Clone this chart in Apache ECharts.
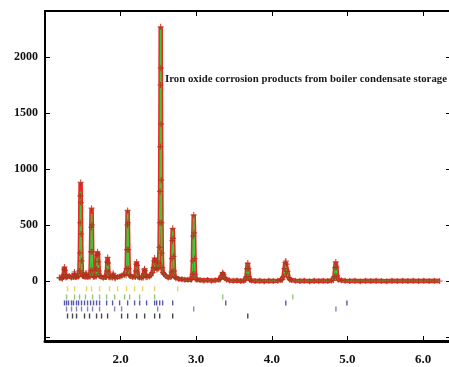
<!DOCTYPE html>
<html>
<head>
<meta charset="utf-8">
<script src="https://cdn.jsdelivr.net/npm/echarts@6/dist/echarts.min.js"></script>
<style>
  html, body { margin: 0; padding: 0; background: #fff; }
  #chart { width: 449px; height: 367px; }
</style>
</head>
<body>
<div id="chart"></div>
<script>
// background points: [d, observed, calculated]
const baseline = [
  [1.19, 30, 25], [1.20, 28, 25], [1.23, 20, 22], [1.29, 35, 28], [1.32, 45, 35],
  [1.35, 30, 28], [1.42, 35, 30], [1.51, 45, 35], [1.57, 38, 30], [1.65, 35, 30],
  [1.74, 40, 30], [1.77, 28, 28], [1.80, 35, 28], [1.86, 30, 28], [1.93, 25, 28],
  [1.96, 35, 32], [1.99, 40, 38], [2.02, 50, 45], [2.05, 55, 48], [2.13, 45, 40],
  [2.16, 35, 30], [2.25, 30, 28], [2.28, 28, 26], [2.35, 35, 30], [2.38, 40, 38],
  [2.57, 60, 55], [2.60, 45, 42], [2.63, 30, 30], [2.73, 25, 22], [2.77, 18, 18],
  [2.81, 15, 15], [2.85, 12, 12], [2.89, 10, 10], [2.93, 12, 12], [3.01, 12, 10],
  [3.05, 8, 8], [3.10, 5, 6], [3.15, 8, 5], [3.20, 3, 4], [3.25, 6, 4],
  [3.30, 10, 8], [3.40, 12, 10], [3.44, 5, 4], [3.49, 2, 3], [3.54, 4, 2],
  [3.59, 0, 2], [3.63, 3, 3], [3.73, 4, 3], [3.78, 0, 2], [3.84, 3, 1],
  [3.90, -2, 1], [3.96, 2, 1], [4.02, 0, 1], [4.08, 3, 3], [4.12, 8, 6],
  [4.26, 8, 6], [4.31, 2, 2], [4.37, 0, 1], [4.43, 2, 0], [4.50, -2, 0],
  [4.56, 1, 0], [4.62, -1, 0], [4.68, 2, 0], [4.74, 0, 1], [4.79, 4, 4],
  [4.92, 6, 5], [4.97, 2, 2], [5.03, 0, 1], [5.10, 2, 0], [5.17, -2, 0],
  [5.24, 1, 0], [5.31, -1, 0], [5.38, 2, 0], [5.45, 0, 0], [5.52, -2, 0],
  [5.59, 1, 0], [5.66, 0, 0], [5.73, 2, 0], [5.80, -1, 0], [5.87, 1, 0],
  [5.94, 0, 0], [6.01, 2, 0], [6.08, -1, 0], [6.15, 1, 0], [6.22, 0, 0]
];

// reflections: each a list of [d, observed, calculated]
const peaks = [
  [[1.240, 35, 30], [1.248, 60, 50], [1.254, 105, 85], [1.258, 125, 100], [1.263, 95, 80], [1.269, 55, 45], [1.276, 32, 30]],
  [[1.380, 35, 30], [1.386, 65, 55], [1.390, 80, 65], [1.395, 60, 50], [1.402, 35, 30]],
  [[1.445, 40, 35], [1.455, 90, 80], [1.461, 250, 230], [1.465, 520, 480], [1.468, 760, 690], [1.471, 880, 800],
   [1.474, 700, 650], [1.478, 420, 400], [1.483, 180, 170], [1.490, 70, 60], [1.497, 45, 40]],
  [[1.532, 35, 32], [1.538, 60, 55], [1.543, 72, 65], [1.549, 55, 50], [1.556, 35, 32]],
  [[1.595, 38, 32], [1.603, 90, 80], [1.608, 260, 240], [1.612, 480, 450], [1.616, 650, 600], [1.620, 500, 470],
   [1.625, 260, 240], [1.631, 95, 85], [1.639, 40, 35]],
  [[1.676, 40, 35], [1.684, 110, 95], [1.690, 230, 190], [1.695, 260, 215], [1.700, 240, 200], [1.706, 170, 150],
   [1.712, 90, 85], [1.720, 45, 40]],
  [[1.812, 35, 30], [1.819, 90, 75], [1.824, 170, 140], [1.828, 210, 170], [1.833, 160, 130], [1.839, 80, 65], [1.846, 35, 30]],
  [[1.892, 32, 30], [1.898, 55, 50], [1.903, 68, 60], [1.909, 50, 45], [1.916, 30, 28]],
  [[2.072, 52, 48], [2.080, 110, 100], [2.085, 280, 260], [2.089, 500, 480], [2.093, 630, 610], [2.097, 520, 500],
   [2.102, 280, 270], [2.108, 110, 100], [2.116, 50, 45]],
  [[2.195, 35, 30], [2.203, 90, 80], [2.208, 150, 130], [2.212, 170, 150], [2.217, 140, 125], [2.223, 80, 70], [2.232, 35, 30]],
  [[2.300, 30, 28], [2.308, 65, 58], [2.314, 100, 88], [2.318, 110, 95], [2.323, 90, 80], [2.330, 50, 45], [2.338, 34, 30]],
  [[2.400, 50, 45], [2.420, 75, 70], [2.435, 120, 110], [2.445, 180, 170], [2.450, 205, 190], [2.456, 170, 160],
   [2.465, 120, 115], [2.480, 100, 95], [2.495, 110, 105]],
  [[2.508, 160, 150], [2.515, 300, 290], [2.519, 520, 510], [2.522, 800, 790], [2.525, 1200, 1180], [2.528, 1750, 1720],
   [2.530, 2270, 2260], [2.532, 1900, 1880], [2.535, 1400, 1380], [2.538, 900, 880], [2.541, 520, 500],
   [2.545, 250, 240], [2.551, 120, 115], [2.560, 75, 70]],
  [[2.665, 35, 32], [2.673, 80, 75], [2.679, 200, 190], [2.684, 360, 350], [2.689, 470, 460], [2.694, 380, 370],
   [2.700, 220, 210], [2.707, 90, 85], [2.716, 35, 32]],
  [[2.940, 15, 14], [2.950, 60, 55], [2.956, 180, 170], [2.961, 400, 390], [2.967, 590, 580], [2.972, 430, 420],
   [2.978, 200, 190], [2.985, 60, 55], [2.995, 16, 14]],
  [[3.320, 15, 12], [3.335, 45, 40], [3.350, 75, 68], [3.362, 60, 55], [3.378, 25, 22]],
  [[3.655, 8, 6], [3.665, 40, 35], [3.673, 110, 100], [3.682, 160, 150], [3.690, 110, 105], [3.699, 40, 38], [3.710, 8, 6]],
  [[4.140, 12, 10], [4.155, 40, 35], [4.168, 110, 100], [4.178, 165, 155], [4.186, 178, 168], [4.195, 150, 140],
   [4.207, 85, 80], [4.222, 30, 28], [4.238, 12, 10]],
  [[4.815, 6, 5], [4.828, 40, 35], [4.838, 120, 110], [4.846, 170, 158], [4.854, 125, 115], [4.864, 45, 40], [4.878, 10, 8]]
];

// reflection markers for each phase (d values)
const phaseYellow = [1.298, 1.391, 1.550, 1.616, 1.722, 1.854, 1.960, 2.079, 2.185, 2.291, 2.450, 2.755];
const phaseGreen = [1.285, 1.391, 1.457, 1.536, 1.629, 1.722, 1.815, 1.921, 2.053, 2.119, 2.252, 2.450, 3.351, 4.278];
const phaseBlue = [1.258, 1.285, 1.311, 1.351, 1.377, 1.417, 1.444, 1.483, 1.523, 1.563, 1.603, 1.642, 1.682,
  1.722, 1.815, 1.894, 1.987, 2.093, 2.185, 2.252, 2.344, 2.450, 2.477, 2.517, 2.556, 2.689, 3.391, 4.185, 4.993];
const phaseSlate = [1.285, 1.351, 1.417, 1.483, 1.563, 1.629, 1.722, 1.921, 2.013, 2.490, 2.967, 4.848];
const phaseBlack = [1.298, 1.364, 1.417, 1.523, 1.589, 1.682, 1.748, 1.828, 2.013, 2.093, 2.212, 2.318, 2.450,
  2.517, 2.689, 3.682];

const yTicks = [0, 500, 1000, 1500, 2000];
const xTicks = [2.0, 3.0, 4.0, 5.0, 6.0];
const title = 'Iron oxide corrosion products from boiler condensate storage';

// merge background and reflections into one profile
const spans = peaks.map(p => [p[0][0], p[p.length - 1][0]]);
const profile = baseline
  .filter(b => !spans.some(s => b[0] >= s[0] && b[0] <= s[1]))
  .concat(...peaks)
  .sort((a, b) => a[0] - b[0]);
const obs = profile.map(p => [p[0], p[1]]);
const calc = profile.map(p => [p[0], p[2]]);

const marker = (arr, level, color) => ({
  type: 'scatter',
  data: arr.map(d => [d, level]),
  symbol: 'rect',
  symbolSize: [1.4, 5],
  itemStyle: { color: color },
  z: 4,
  silent: true
});

const chart = echarts.init(document.getElementById('chart'));
const font = 'Liberation Serif';
const tick = { inside: true, length: 5, lineStyle: { color: '#000', width: 1 } };

chart.setOption({
  animation: false,
  grid: { left: 45, top: 11, width: 406, height: 330, outerBoundsMode: 'none', containLabel: false },
  xAxis: [
    {
      type: 'value', position: 'bottom', min: 1.0, max: 6.37, interval: 1.0,
      axisLine: { onZero: false, lineStyle: { color: '#000', width: 3 } },
      axisTick: tick,
      axisLabel: {
        margin: 12, color: '#111', fontFamily: font, fontWeight: 'bold', fontSize: 13,
        formatter: v => xTicks.some(t => Math.abs(t - v) < 1e-6) ? v.toFixed(1) : ''
      },
      splitLine: { show: false }
    },
    {
      type: 'value', position: 'top', min: 1.0, max: 6.37, interval: 1.0,
      axisLine: { onZero: false, lineStyle: { color: '#000', width: 2 } },
      axisTick: tick,
      axisLabel: { show: false },
      splitLine: { show: false }
    }
  ],
  yAxis: [
    {
      type: 'value', position: 'left', min: -536, max: 2411, minInterval: 500, maxInterval: 500,
      axisLine: { show: true, onZero: false, lineStyle: { color: '#000', width: 2 } },
      axisTick: Object.assign({ show: true }, tick),
      axisLabel: {
        margin: 7, color: '#111', fontFamily: font, fontWeight: 'bold', fontSize: 12,
        formatter: v => yTicks.includes(v) ? String(v) : ''
      },
      splitLine: { show: false }
    },
    {
      type: 'value', position: 'right', min: -536, max: 2411, minInterval: 500, maxInterval: 500,
      axisLine: { show: true, onZero: false, lineStyle: { color: '#000', width: 2 } },
      axisTick: Object.assign({ show: true }, tick),
      axisLabel: { show: false },
      splitLine: { show: false }
    }
  ],
  graphic: [{
    type: 'text', left: 165, top: 74, silent: true,
    style: { text: title, fontFamily: font, fontWeight: 'bold', fontSize: 10.8, fill: '#1a1a1a' }
  }],
  series: [
    {
      type: 'line', data: obs, showSymbol: false, z: 1, silent: true,
      lineStyle: { color: '#e8291f', width: 4.5 }
    },
    {
      type: 'line', data: calc, showSymbol: false, z: 2, silent: true,
      lineStyle: { color: '#3ec83a', width: 1.6 }
    },
    {
      type: 'scatter', data: obs, z: 3, silent: true,
      symbol: 'path://M2,0h1v2h2v1h-2v2h-1v-2h-2v-1h2z', symbolSize: 6,
      itemStyle: { color: '#b0301e' }
    },
    marker(phaseYellow, -70, '#e6c83a'),
    marker(phaseGreen, -143, '#7cb85a'),
    marker(phaseBlue, -196, '#2a2f9a'),
    marker(phaseSlate, -250, '#6a66a8'),
    marker(phaseBlack, -313, '#1a1a1a')
  ]
});
</script>
</body>
</html>
